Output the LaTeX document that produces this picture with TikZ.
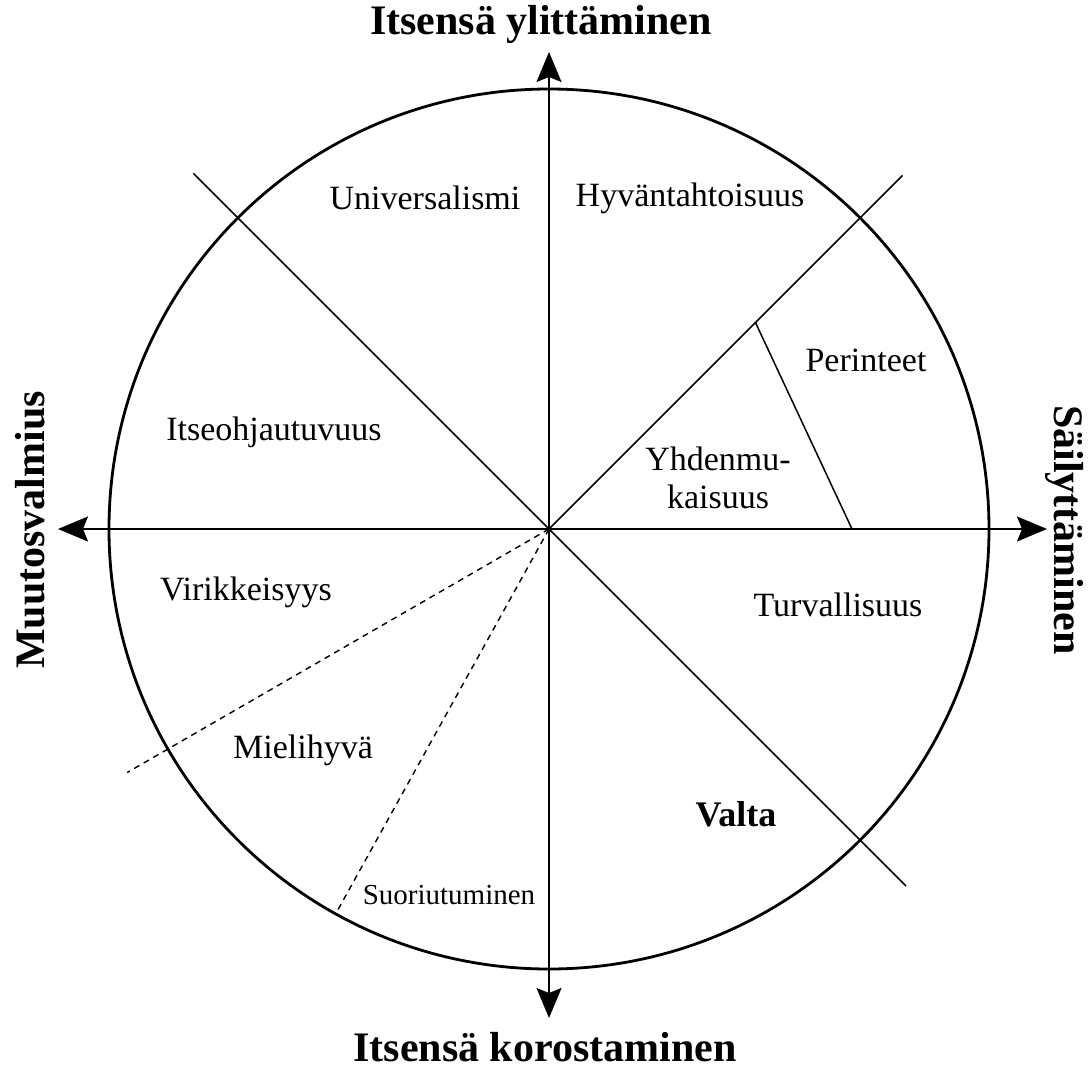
\documentclass[tikz,border=0pt]{standalone}
\usepackage{fontspec}
\setmainfont{Liberation Serif}
\usetikzlibrary{arrows.meta}
\tikzset{
  axis/.style={line width=1.8pt,{Stealth[length=30pt,width=25pt,inset=5pt]}-{Stealth[length=30pt,width=25pt,inset=5pt]}},
  divider/.style={line width=1.5pt},
  dashdiv/.style={line width=1.4pt,dash pattern=on 6pt off 5pt},
  value/.style={font=\fontsize{34}{38}\selectfont,align=center},
  pole/.style={font=\fontsize{42}{46}\selectfont\bfseries}
}
\begin{document}
\begin{tikzpicture}[x=1pt,y=1pt]
  \useasboundingbox (-549,-543) rectangle (540,529);
  \coordinate (O) at (0,0);
  \coordinate (W) at (-491,0);
  \coordinate (E) at (498,0);
  \coordinate (N) at (0,477);
  \coordinate (S) at (0,-489);
  \coordinate (NW) at (135:503);
  \coordinate (SE) at (-45:505);
  \coordinate (NE) at (45:500);
  \coordinate (sepA) at (45:292);
  \coordinate (sepB) at (0:303);
  \coordinate (dashA) at (210:487);
  \coordinate (dashB) at (241:438);

  \draw[line width=2.8pt] (O) circle (440);
  \draw[divider] (NW) -- (SE);
  \draw[divider] (O) -- (NE);
  \draw[divider] (sepA) -- (sepB);
  \draw[dashdiv] (O) -- (dashA);
  \draw[dashdiv] (O) -- (dashB);
  \draw[axis] (W) -- (E);
  \draw[axis] (S) -- (N);

  \node[pole] (top) at (-8,505) {Itsensä ylittäminen};
  \node[pole] (bottom) at (-4,-518) {Itsensä korostaminen};
  \node[pole,rotate=90] (left) at (-519,-1) {Muutosvalmius};
  \node[pole,rotate=-90] (right) at (516,-1) {Säilyttäminen};

  \node[value] (univ) at (-124,331) {Universalismi};
  \node[value] (hyva) at (141,331) {Hyväntahtoisuus};
  \node[value] (peri) at (317,169) {Perinteet};
  \node[value] (yhde) at (169,51) {Yhdenmu-\\kaisuus};
  \node[value] (itse) at (-275,97) {Itseohjautuvuus};
  \node[value] (viri) at (-303,-63) {Virikkeisyys};
  \node[value] (miel) at (-246,-221) {Mielihyvä};
  \node[value,font=\fontsize{29}{33}\selectfont] (suor) at (-100,-366) {Suoriutuminen};
  \node[value] (turv) at (289,-76) {Turvallisuus};
  \node[value,font=\fontsize{36}{40}\selectfont\bfseries] (valt) at (187,-285) {Valta};
\end{tikzpicture}
\end{document}
